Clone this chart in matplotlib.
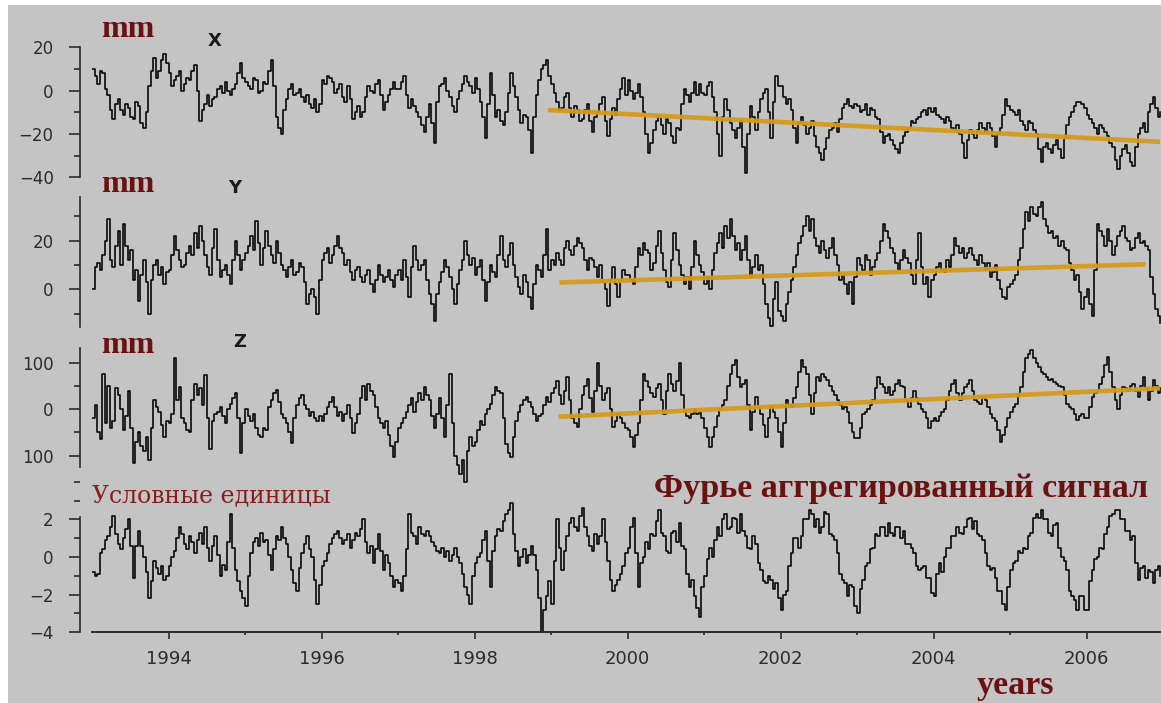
import matplotlib
matplotlib.use("Agg")
import matplotlib.pyplot as plt
from matplotlib.ticker import FixedLocator
from matplotlib.patches import Rectangle
import numpy as np

# ---------------- data ----------------
start_year = 1993.0
samples_per_year = 30

# X component, mm (30 samples per year, one line per year 1993 ... 2006)
x_mm = [
    10, 7, 3, 9, 8, 1, -2, -9, -13, -6, -4, -9, -11, -6, -8, -12, -13, -5, -7, -15, -17, -10, 2, 9, 15, 6, 9, 14, 17, 13,
    8, 2, 5, 7, 9, 0, 3, 6, 5, 9, 12, 0, -14, -9, -6, -2, -7, -4, -3, 1, 2, -1, 4, 0, -2, 1, 3, 8, 13, 6,
    4, 2, 1, 6, 5, -1, 0, 4, 3, 9, 14, 2, -12, -17, -20, -9, -4, 1, 3, -2, -1, 1, -3, -5, -2, -6, -8, -4, -10, -6,
    5, 3, 7, 6, 4, -1, 1, 3, -3, -5, 2, -4, -13, -10, -7, -12, -10, -3, 2, 0, -1, 3, 5, -2, -9, -5, -2, 1, 4, 1,
    1, 4, 7, -2, -8, -4, -7, -10, -12, -16, -19, -12, -6, -15, -24, -5, 2, 3, 6, 0, -3, -7, -10, -4, 0, 3, 7, 4, 2, -1,
    6, 1, -5, -12, -22, -6, 8, -2, -12, -9, -14, -16, -10, -1, 8, 2, -3, -9, -15, -11, -12, -18, -29, -12, -2, 5, 10, 12, 14, 7,
    3, -1, -5, -9, -8, -3, -1, -8, -12, -7, -9, -14, -13, -9, -6, -14, -19, -12, -10, -6, -3, -14, -21, -13, -8, -11, -4, 1, 6, -2,
    5, 0, -4, -1, 3, -3, -10, -20, -29, -24, -18, -14, -12, -16, -20, -13, -15, -21, -24, -17, -18, -6, 1, -2, -5, -1, 4, -2, 3, -1,
    -2, 2, 4, -3, -10, -20, -30, -12, -4, -9, -15, -18, -22, -17, -14, -26, -38, -20, -7, -12, -18, -10, -4, -1, 1, -10, -22, -5, 7, 2,
    2, -3, -6, -4, -9, -17, -24, -15, -12, -16, -20, -17, -14, -21, -26, -29, -32, -27, -22, -18, -17, -15, -19, -13, -8, -6, -4, -7, -8, -6,
    -7, -10, -9, -6, -11, -8, -9, -12, -13, -19, -24, -21, -20, -23, -25, -27, -29, -24, -21, -19, -17, -14, -15, -13, -12, -10, -9, -11, -8, -10,
    -8, -11, -12, -13, -15, -12, -14, -17, -18, -16, -20, -24, -31, -23, -18, -20, -22, -18, -15, -17, -19, -15, -17, -21, -26, -20, -17, -11, -4, -7,
    -9, -10, -11, -9, -14, -16, -18, -14, -15, -18, -20, -27, -33, -26, -24, -27, -29, -25, -23, -27, -31, -22, -16, -12, -10, -7, -5, -5, -6, -8,
    -11, -13, -15, -17, -20, -16, -17, -19, -21, -24, -26, -32, -36, -30, -27, -25, -29, -33, -35, -26, -20, -17, -15, -19, -10, -6, -3, -8, -12, -10,
]

# Y component, mm
y_mm = [
    0, 9, 11, 8, 14, 20, 29, 12, 9, 18, 24, 10, 27, 18, 12, 16, 4, 8, -5, 6, 12, 3, -10, 4, 10, 12, 6, 9, 2, 7,
    8, 14, 22, 16, 12, 9, 10, 15, 18, 14, 23, 17, 26, 20, 14, 9, 6, 17, 25, 12, 5, 8, 10, 6, 2, 12, 20, 14, 8, 12,
    15, 18, 22, 16, 28, 19, 10, 17, 24, 18, 14, 11, 20, 15, 10, 8, 5, 9, 12, 6, 7, 11, 9, 3, -6, -2, 0, -3, -10, 4,
    12, 15, 17, 11, 14, 18, 22, 17, 15, 10, 12, 7, 4, 8, 9, 5, 3, 6, 8, 2, -1, 4, 10, 6, 3, 5, 8, 4, 1, 6,
    8, 4, 12, 5, -3, 9, 18, 12, 8, 10, 12, 4, -2, -6, -13, -2, 3, 7, 12, 9, 5, 0, -6, 2, 8, 12, 20, 14, 10, 13,
    6, 9, 12, 4, -5, 3, 10, 7, 5, 14, 22, 12, 9, 14, 19, 10, 5, 1, -2, 6, 3, -3, -8, 2, 10, 8, 5, 14, 25, 8,
    12, 10, 15, 12, 10, 17, 20, 16, 14, 18, 21, 19, 17, 12, 8, 13, 12, 9, 5, 10, 3, 0, -7, 4, 9, 2, -3, 4, 8, 6,
    6, 4, 2, 9, 17, 14, 19, 16, 15, 8, 11, 18, 24, 15, 8, 3, 1, 12, 23, 16, 10, 6, 2, 5, 0, 9, 20, 14, 10, 7,
    2, 5, 0, 8, 15, 19, 23, 17, 26, 21, 29, 22, 16, 19, 12, 16, 22, 12, 5, 9, 14, 8, 10, 2, -6, -12, -15, -4, 3, -9,
    -11, -13, -6, -1, 4, 9, 14, 19, 22, 26, 30, 24, 29, 21, 18, 15, 20, 16, 13, 17, 21, 14, 10, 4, 6, 2, -2, 3, -6, 5,
    13, 10, 8, 14, 12, 6, 9, 12, 15, 20, 27, 24, 21, 17, 15, 11, 8, 12, 16, 13, 11, 6, 2, 12, 23, 9, 2, 5, -3, 4,
    6, 9, 11, 8, 7, 12, 9, 14, 21, 18, 15, 17, 13, 15, 17, 14, 12, 10, 14, 11, 8, 11, 5, 7, 10, 4, 0, -3, -4, 1,
    2, 4, 6, 12, 17, 25, 32, 28, 34, 31, 30, 34, 36, 29, 26, 23, 24, 21, 22, 18, 20, 17, 16, 11, 8, 4, 6, -1, -8, -3,
    0, -6, -11, 8, 27, 24, 22, 18, 25, 20, 14, 18, 22, 24, 26, 21, 20, 16, 17, 21, 23, 19, 20, 18, 16, 5, -2, -8, -11, -14,
]

# Z component, mm
z_mm = [
    -20, 10, -50, -65, 75, -30, 50, -40, -25, 45, 30, 0, -45, -15, 40, -40, -117, -70, -50, -80, -90, -60, -110, -40, 20, 5, -5, -35, -60, -25,
    -30, -10, 110, 20, 48, -20, -30, -45, -50, 20, 55, 30, 45, 10, 74, -20, -85, -25, -10, -5, 5, -15, -30, 0, 12, 25, 35, -20, -95, -30,
    0, -15, -25, -10, -40, -55, -60, -40, -45, 5, 20, 35, 41, 15, -10, -20, -30, -50, -73, -20, 10, 25, 30, 10, 0, -15, -5, -20, -25, -15,
    -25, -10, 5, 15, 27, 5, -15, -5, -25, -10, 10, -20, -52, -30, -10, 25, 50, 20, 55, 40, 30, 5, -20, -30, -40, -25, -55, -80, -103, -70,
    -40, -30, -20, -5, 10, 25, -5, 15, 35, 20, 48, 30, 20, -15, -40, -10, 25, -20, -60, 10, 77, -30, -100, -120, -140, -110, -156, -90, -60, -80,
    -70, -45, -25, -35, -10, 0, 12, 30, 48, 40, 35, -20, -75, -95, -103, -60, -25, -5, 10, 20, 27, 15, 5, -10, -25, -15, -10, 10, 27, 15,
    35, 45, 60, 30, 12, 40, 70, 20, -20, -30, -38, 0, 30, 50, 66, 25, -5, 40, 99, 50, 20, 35, 45, 0, -38, -25, -10, -20, -30, -40,
    -45, -60, -81, -55, -30, 20, 77, 60, 48, 35, 27, 45, 55, 20, -10, 40, 77, 55, 40, 60, 99, 30, -5, -15, -20, -10, 0, -10, -5, -20,
    -40, -60, -81, -60, -38, -15, 0, 10, 20, 50, 77, 95, 106, 70, 48, 55, 63, 10, -45, -5, 27, 5, -10, -35, -60, -20, 5, -5, -20, -50,
    -81, -30, 20, 10, 5, 25, 48, 80, 106, 90, 77, 30, -10, 35, 70, 60, 77, 70, 63, 50, 40, 30, 20, 10, 0, 5, -5, -30, -50, -63,
    -63, -40, -10, -5, 0, 10, 20, 45, 70, 55, 48, 35, 48, 30, 40, 55, 63, 50, 48, 20, 5, 25, 40, 25, 12, 0, -5, -20, -40, -25,
    -20, -25, -15, -5, 0, 20, 40, 55, 63, 35, 20, 35, 48, 55, 63, 40, 20, 15, 12, 25, 20, 5, -10, -20, -25, -45, -70, -55, -38, -20,
    -5, 5, 12, 30, 48, 80, 110, 120, 128, 110, 100, 90, 80, 75, 70, 62, 66, 58, 55, 50, 48, 30, 12, 5, 0, -10, -23, -15, -10, -20,
    -20, 5, 27, 35, 40, 55, 70, 95, 113, 80, 48, 20, 0, 30, 48, 45, 40, 50, 55, 40, 27, 50, 70, 45, 20, 40, 63, 50, 35, 45,
]

# Fourier aggregated signal, arbitrary units
fourier = [
    -0.8, -1.0, -0.9, 0.2, 0.4, 0.9, 1.1, 1.6, 2.2, 1.2, 0.7, 0.4, 1.0, 1.5, 2.0, 0.6, -1.1, 0.6, 1.4, 0.6, 0.0, -0.8, -2.2, -1.3, -0.2, -0.6, -0.9, -0.5, -1.2, -1.0,
    -0.5, 0.0, 0.3, 1.0, 1.6, 1.2, 0.7, 0.4, 1.1, 0.8, 0.2, 0.9, 1.3, 0.7, 1.6, 0.5, -0.2, 0.6, 1.1, 0.1, -1.0, -0.4, -0.7, 0.8, 2.3, 0.5, -0.7, -1.3, -1.8, -2.2,
    -2.6, -1.0, 0.2, 0.8, 1.0, 0.6, 1.3, 0.8, 0.9, 0.1, -0.7, 0.4, 1.1, 0.9, 1.6, 1.0, 0.7, 0.0, -0.7, -1.4, -1.8, -0.6, 0.2, 0.7, 1.1, 0.4, 0.0, -1.2, -2.5, -1.5,
    -0.5, -0.2, 0.2, 0.7, 1.0, 1.2, 1.4, 1.0, 0.7, 0.9, 1.2, 0.5, 0.9, 1.3, 1.1, 1.5, 2.0, 0.8, 0.2, 0.6, -0.3, 0.4, 1.2, 0.3, -0.7, 0.1, -0.3, -1.0, -1.6, -1.2,
    -1.4, -1.8, -1.0, 0.4, 2.3, 1.3, 1.1, 0.7, 1.6, 1.2, 1.1, 1.4, 1.1, 0.8, 0.6, 0.3, 0.2, 0.5, 0.0, 0.3, -0.2, 0.1, 0.5, 0.0, -0.3, -0.9, -1.6, -2.0, -2.5, -1.0,
    -0.3, 0.0, 0.2, 0.9, 1.4, -0.2, -1.6, 0.3, 1.1, 1.5, 1.4, 1.9, 2.3, 2.5, 2.9, 1.2, 0.3, -0.5, 0.0, 0.4, -0.3, 0.1, 0.6, 0.1, -0.7, -2.2, -4.0, -2.8, -2.1, -1.3,
    -2.5, -0.2, 2.0, 0.5, -0.7, 0.3, 1.1, 1.8, 2.1, 1.6, 1.4, 2.2, 2.6, 1.6, 1.1, 0.6, 0.3, 1.2, 0.7, 1.1, 2.0, 0.8, -0.2, -1.2, -1.8, -1.5, -1.2, -0.9, -0.5, 0.2,
    0.5, 1.6, 2.1, 0.2, -1.6, -0.3, 0.0, 0.8, 0.4, 1.2, 1.1, 1.9, 2.5, 1.3, 1.1, 0.3, 0.2, 1.3, 1.4, 0.8, 1.8, 0.6, 0.4, -0.9, -1.6, -1.2, -2.1, -2.7, -3.2, -1.6,
    -1.0, -0.1, 0.5, 0.0, 0.9, 1.6, 1.1, 2.0, 2.3, 1.5, 1.6, 2.1, 2.0, 1.3, 2.3, 1.4, 1.1, 0.5, 0.4, 1.1, 0.7, -0.3, -0.7, -1.3, -1.4, -1.0, -1.2, -1.7, -1.4, -2.2,
    -2.8, -2.0, -1.8, -0.5, 0.2, 1.0, 1.0, 0.5, 1.1, 2.0, 2.0, 2.5, 2.3, 1.6, 2.0, 1.3, 1.6, 2.4, 2.3, 1.2, 1.1, 0.9, 0.2, -0.9, -1.2, -1.4, -2.1, -1.5, -1.6, -2.6,
    -3.0, -1.7, -1.2, -0.5, -0.3, 0.4, 0.5, 1.2, 1.1, 1.6, 1.6, 1.1, 1.8, 1.3, 1.1, 1.6, 1.6, 1.0, 1.4, 0.7, 0.7, 0.5, 0.2, -0.5, -0.7, -0.6, -0.5, -1.1, -1.1, -1.9,
    -2.1, -0.9, -0.3, -0.8, 0.0, 0.5, 0.5, 1.1, 1.1, 1.6, 1.3, 1.2, 1.6, 2.0, 2.1, 1.5, 1.9, 1.2, 1.1, 0.9, 0.2, -0.5, -0.7, -0.6, -1.1, -1.8, -1.8, -2.5, -2.8, -1.6,
    -0.7, -0.3, -0.2, 0.3, 0.2, 0.5, 0.4, 1.1, 1.3, 2.1, 2.3, 2.1, 2.5, 2.0, 2.0, 1.3, 1.1, 1.7, 1.8, 0.5, 0.0, -0.2, -0.7, -1.8, -2.1, -2.3, -2.8, -2.1, -2.1, -2.8,
    -2.8, -1.3, -0.7, -0.1, 0.0, 0.5, 0.4, 1.2, 1.6, 2.2, 2.3, 2.5, 2.5, 2.0, 2.0, 1.4, 1.4, 0.9, 1.1, -0.3, -1.2, -0.6, -0.5, -1.1, -0.7, -0.8, -1.4, -0.7, -0.5, -1.0,
]

# linear trends (start year, start value, end year, end value)
trend_x = [1998.96, -8.9, 2006.96, -23.6]
trend_y = [1999.11, 2.8, 2006.77, 10.3]
trend_z = [1999.10, -16.2, 2006.96, 45.0]

year_ticks = [1994, 1996, 1998, 2000, 2002, 2004, 2006]
year_minor = [1995, 1997, 1999, 2001, 2003, 2005]

# ---------------- figure ----------------
W, H = 1161, 703
BG = "#c4c4c4"
DARK = "#2b2b2b"
RED_DARK = "#6a1212"
RED = "#8c1c1c"
ORANGE = "#d39a1c"

fig = plt.figure(figsize=(W / 100, H / 100), dpi=100, facecolor=BG)
# white strips at top and left edges
fig.add_artist(Rectangle((0, 1 - 5 / H), 1, 5 / H, transform=fig.transFigure,
                         facecolor="white", edgecolor="none", zorder=-5))
fig.add_artist(Rectangle((0, 0), 8 / W, 1, transform=fig.transFigure,
                         facecolor="white", edgecolor="none", zorder=-5))

PX_PER_YEAR = 76.5
AX_LEFT, AX_RIGHT = 92, 1161
XMIN = start_year
XMAX = start_year + (AX_RIGHT - AX_LEFT) / PX_PER_YEAR

t = start_year + np.arange(len(x_mm)) / samples_per_year


def make_ax(top, bottom, y_ref, v_ref, px_per_unit):
    ax = fig.add_axes([AX_LEFT / W, 1 - bottom / H, (AX_RIGHT - AX_LEFT) / W,
                       (bottom - top) / H])
    vt = v_ref + (y_ref - top) / px_per_unit
    vb = v_ref + (y_ref - bottom) / px_per_unit
    ax.set_xlim(XMIN, XMAX)
    ax.set_ylim(vb, vt)
    ax.patch.set_alpha(0)
    for s in ["top", "right", "bottom"]:
        ax.spines[s].set_visible(False)
    ax.spines["left"].set_position(("outward", 8.6))
    ax.spines["left"].set_color(DARK)
    ax.spines["left"].set_linewidth(1.2)
    ax.tick_params(axis="y", which="major", length=8, width=1.2, pad=11,
                   labelsize=12, colors=DARK, direction="out")
    ax.tick_params(axis="y", which="minor", length=4, width=1.2, colors=DARK,
                   direction="out")
    ax.tick_params(axis="x", which="both", bottom=False, labelbottom=False)
    return ax


def series(ax, values):
    ax.plot(t, values, color="black", lw=1.15, drawstyle="steps-post", zorder=2)


def trend(ax, tr):
    ax.plot([tr[0], tr[2]], [tr[1], tr[3]], color=ORANGE, lw=3.3,
            solid_capstyle="butt", zorder=3, alpha=0.95)


# X panel
ax1 = make_ax(20, 192, 90.7, 0.0, 2.165)
series(ax1, x_mm)
trend(ax1, trend_x)
ax1.spines["left"].set_bounds(-40, 20)
ax1.yaxis.set_major_locator(FixedLocator([-40, -20, 0, 20]))
ax1.yaxis.set_minor_locator(FixedLocator([-30, -10, 10]))

# Y panel
ax2 = make_ax(190, 335, 289.3, 0.0, 2.43)
series(ax2, y_mm)
trend(ax2, trend_y)
ax2.spines["left"].set_bounds(-15.5, 38)
ax2.yaxis.set_major_locator(FixedLocator([0, 20]))
ax2.yaxis.set_minor_locator(FixedLocator([-10, 10, 30]))

# Z panel
ax3 = make_ax(335, 490, 409.2, 0.0, 0.4635)
series(ax3, z_mm)
trend(ax3, trend_z)
ax3.spines["left"].set_bounds(-125, 132)
ax3.yaxis.set_major_locator(FixedLocator([-100, 0, 100]))
ax3.set_yticklabels(["100", "0", "100"])
ax3.yaxis.set_minor_locator(FixedLocator([-50, 50]))

# Fourier panel
ax4 = make_ax(470, 633, 557.0, 0.0, 18.78)
series(ax4, fourier)
ax4.spines["left"].set_bounds(-4, 2.15)
ax4.yaxis.set_major_locator(FixedLocator([-4, -2, 0, 2]))
ax4.yaxis.set_minor_locator(FixedLocator([-3, -1, 1, 3, 4]))
ax4.spines["bottom"].set_visible(True)
ax4.spines["bottom"].set_position(("data", -4))
ax4.spines["bottom"].set_bounds(XMIN, XMAX)
ax4.spines["bottom"].set_color(DARK)
ax4.spines["bottom"].set_linewidth(1.4)
ax4.xaxis.set_major_locator(FixedLocator(year_ticks))
ax4.xaxis.set_minor_locator(FixedLocator(year_minor))
ax4.set_xticklabels([str(y) for y in year_ticks])
ax4.tick_params(axis="x", which="major", bottom=True, labelbottom=True,
                length=5, width=1.2, pad=8, labelsize=13, colors=DARK)
ax4.tick_params(axis="x", which="minor", bottom=True, length=2.5, width=1.2,
                colors=DARK)


def ftext(px, py, s, **kw):
    fig.text(px / W, 1 - py / H, s, **kw)


serif_bold = dict(family="Liberation Serif", weight="bold")
ftext(101, 37, "mm", color=RED_DARK, fontsize=23, va="baseline", **serif_bold)
ftext(101, 192, "mm", color=RED_DARK, fontsize=23, va="baseline", **serif_bold)
ftext(101, 353, "mm", color=RED_DARK, fontsize=23, va="baseline", **serif_bold)
for px, py, s in [(215, 41, "X"), (235, 188, "Y"), (240, 342, "Z")]:
    ftext(px, py, s, color="#1a1a1a", fontsize=13, ha="center", va="center",
          family="DejaVu Sans", weight="bold")
ftext(92, 502, "Условные единицы", color=RED, fontsize=17, va="baseline",
      family="DejaVu Serif")
ftext(654, 497, "Фурье аггрегированный сигнал", color=RED_DARK, fontsize=24.5,
      va="baseline", **serif_bold)
ftext(977, 694, "years", color=RED_DARK, fontsize=24.5, va="baseline", **serif_bold)

fig.savefig("out.png", dpi=100, facecolor=BG)
